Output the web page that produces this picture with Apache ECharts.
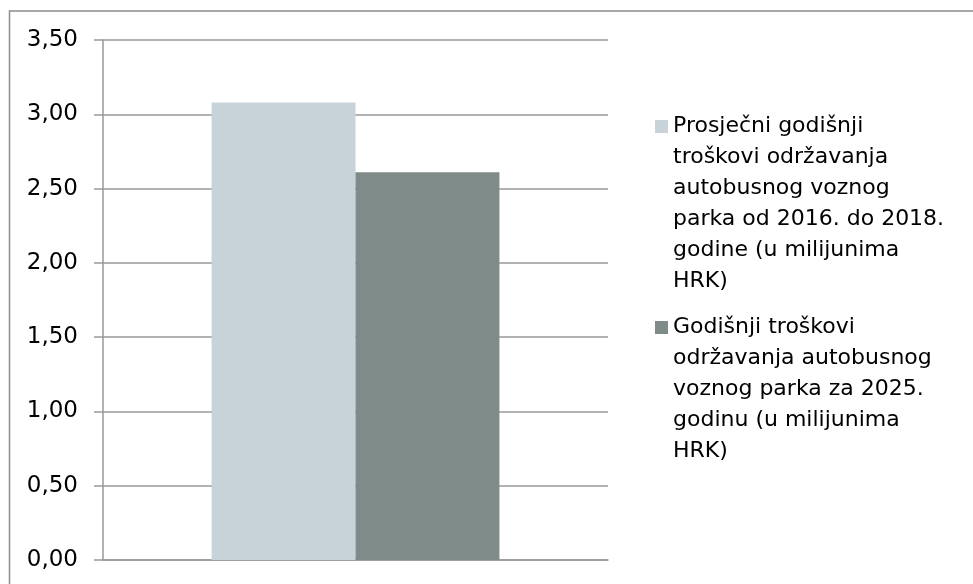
<!DOCTYPE html>
<html>
<head>
<meta charset="utf-8">
<script src="https://cdn.jsdelivr.net/npm/echarts@6/dist/echarts.min.js"></script>
<style>
    html, body { margin: 0; padding: 0; background: #fff; }
    #chart { width: 973px; height: 584px; }
</style>
</head>
<body>
<div id="chart"></div>
<script>
var categories = [''];
var seriesNames = [
    'Prosječni godišnji\ntroškovi održavanja\nautobusnog voznog\nparka od 2016. do 2018.\ngodine (u milijunima\nHRK)',
    'Godišnji troškovi\nodržavanja autobusnog\nvoznog parka za 2025.\ngodinu (u milijunima\nHRK)'
];
var averageCosts = [3.08];
var costs2025 = [2.61];
var colorList = ['#c8d3d9', '#7f8b89'];

var lineH = 31;
var gridColor = '#999999';

var chart = echarts.init(document.getElementById('chart'));

var option = {
    animation: false,
    color: colorList,
    textStyle: { fontFamily: 'DejaVu Sans' },
    graphic: [{
        type: 'rect',
        shape: { x: 9.5, y: 11, width: 1000, height: 1000 },
        style: { fill: 'none', stroke: '#8c8c8c', lineWidth: 1.5 },
        silent: true
    }],
    grid: { left: 103, right: 365, top: 40, bottom: 24 },
    legend: {
        orient: 'vertical',
        left: 655,
        top: -44,
        padding: 0,
        itemGap: -109,
        itemWidth: 13,
        itemHeight: 13,
        icon: 'rect',
        data: seriesNames,
        // text is centred on the icon: add empty lines above so the first line sits next to it
        formatter: function (name) {
            var n = name.split('\n').length;
            return new Array(n).join('\n') + name;
        },
        textStyle: {
            fontFamily: 'DejaVu Sans',
            fontSize: 22,
            lineHeight: lineH,
            color: '#000'
        }
    },
    xAxis: {
        type: 'category',
        data: categories,
        axisLine: { show: true, lineStyle: { color: gridColor, width: 1.5 } },
        axisTick: { show: false },
        axisLabel: { show: false }
    },
    yAxis: {
        type: 'value',
        min: 0,
        max: 3.5,
        interval: 0.5,
        axisLine: { show: true, lineStyle: { color: gridColor, width: 1.5 } },
        axisTick: { show: true, length: 9, lineStyle: { color: gridColor, width: 1.5 } },
        splitLine: { show: true, lineStyle: { color: gridColor, width: 1.5 } },
        axisLabel: {
            margin: 25,
            fontFamily: 'DejaVu Sans',
            fontSize: 23,
            color: '#000',
            formatter: function (v) { return v.toFixed(2).replace('.', ','); }
        }
    },
    series: [
        {
            name: seriesNames[0],
            type: 'bar',
            data: averageCosts,
            barGap: '0%',
            barCategoryGap: '43%'
        },
        {
            name: seriesNames[1],
            type: 'bar',
            data: costs2025,
            barGap: '0%',
            barCategoryGap: '43%'
        }
    ]
};
chart.setOption(option);
</script>
</body>
</html>
